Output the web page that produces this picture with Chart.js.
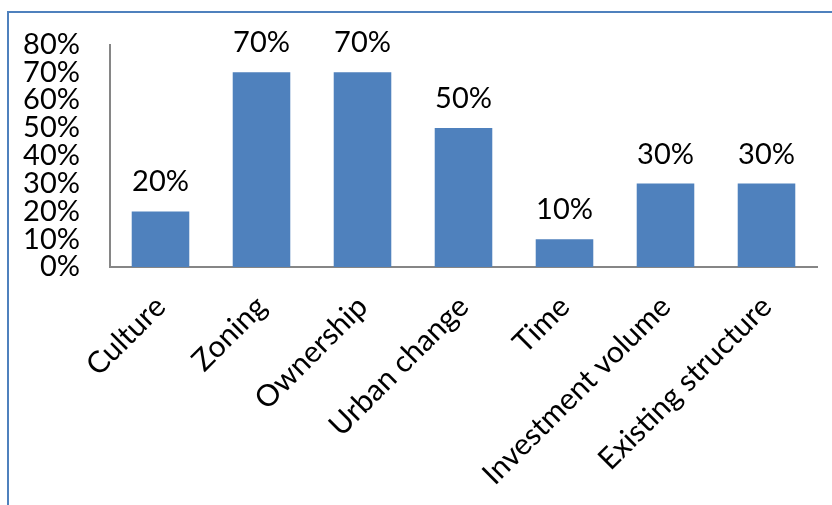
<!DOCTYPE html>
<html>
<head>
<meta charset="utf-8">
<script src="https://cdn.jsdelivr.net/npm/chart.js@4/dist/chart.umd.min.js"></script>
<style>
  html, body { margin: 0; padding: 0; background: #fff; overflow: hidden; }
  #frame {
    position: absolute; left: 7px; top: 11px; width: 900px; height: 600px;
    border-left: 2px solid #4F81BD; border-top: 2px solid #4F81BD;
  }
  #wrap { position: absolute; left: 0; top: 0; width: 832px; height: 505px; }
</style>
</head>
<body>
<div id="frame"></div>
<div id="wrap"><canvas id="chart" width="832" height="505"></canvas></div>
<script>
const categories = ["Culture", "Zoning", "Ownership", "Urban change", "Time", "Investment volume", "Existing structure"];
const shares = [20, 70, 70, 50, 10, 30, 30];
const yTicks = [0, 10, 20, 30, 40, 50, 60, 70, 80];

const fontFamily = "Lato, 'Open Sans', sans-serif";
const fontSize = 29;

// labels above each bar, like the excel data labels
const barLabels = {
  id: "barLabels",
  afterDatasetsDraw(chart) {
    const ctx = chart.ctx;
    const meta = chart.getDatasetMeta(0);
    ctx.save();
    ctx.font = `${fontSize}px ${fontFamily}`;
    ctx.fillStyle = "#000";
    ctx.textAlign = "center";
    ctx.textBaseline = "alphabetic";
    meta.data.forEach((bar, i) => {
      ctx.fillText(shares[i] + "%", bar.x, bar.y - 20);
    });
    ctx.restore();
  }
};

const data = {
  labels: categories,
  datasets: [
    {
      data: shares,
      backgroundColor: "#4F81BD",
      borderWidth: 0,
      barPercentage: 0.57,
      categoryPercentage: 1,
    },
  ],
};

const config = {
  type: "bar",
  data: data,
  options: {
    responsive: false,
    animation: false,
    layout: { padding: { left: 0, top: 44, right: 15, bottom: 0 } },
    plugins: {
      legend: { display: false },
      tooltip: { enabled: false },
    },
    scales: {
      x: {
        grid: { display: false, drawTicks: false },
        border: { display: true, color: "#868686", width: 2 },
        ticks: {
          color: "#000",
          font: { family: fontFamily, size: 30 },
          minRotation: 45,
          maxRotation: 45,
          autoSkip: false,
          padding: 22,
        },
        afterFit: (scale) => { scale.height = 505 - 267; },
      },
      y: {
        min: 0,
        max: 80,
        afterBuildTicks: (scale) => { scale.ticks = yTicks.map((v) => ({ value: v })); },
        grid: { display: false, drawTicks: false },
        border: { display: true, color: "#868686", width: 2 },
        ticks: {
          color: "#000",
          autoSkip: false,
          font: { family: fontFamily, size: fontSize, lineHeight: 1 },
          padding: 30,
          callback: (v) => v + "%",
        },
        afterFit: (scale) => { scale.width = 110; },
      },
    },
  },
  plugins: [barLabels],
};

new Chart(document.getElementById("chart"), config);
</script>
</body>
</html>
